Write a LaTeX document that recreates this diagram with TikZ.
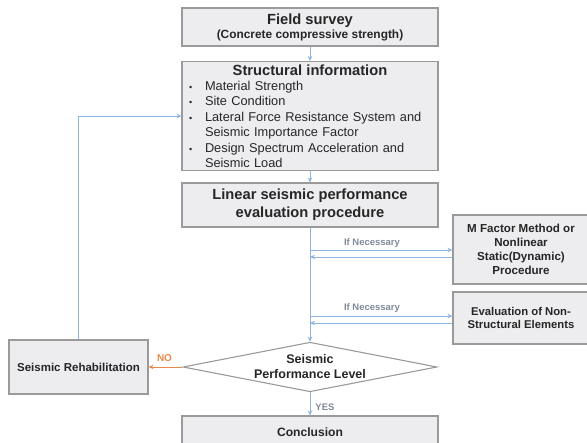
\documentclass[tikz,border=0pt]{standalone}
\usepackage{fontspec}
\setmainfont{Liberation Sans}
\usetikzlibrary{arrows.meta,shapes.geometric}
\definecolor{boxfill}{HTML}{EDEDF0}
\definecolor{boxline}{HTML}{9A9A9A}
\definecolor{flowblue}{HTML}{8DB4E2}
\definecolor{txt}{HTML}{262626}
\definecolor{labgrey}{HTML}{7F8A99}
\definecolor{noorange}{HTML}{E8894A}
\newcommand{\infoitem}[1]{\par\hangindent=16pt\hangafter=1\noindent\makebox[16pt][l]{\small\textbullet}#1\par}
\begin{document}
\begin{tikzpicture}[x=1pt,y=-1pt,
    box/.style={draw=boxline,line width=1.1pt,fill=boxfill,text=txt,font=\bfseries,inner sep=0pt,align=center},
    flow/.style={draw=flowblue,line width=0.9pt,-{Stealth[length=5pt,width=4.5pt]}},
    lab/.style={font=\bfseries\fontsize{9.5}{11}\selectfont,text=labgrey,inner sep=0pt}]
    \useasboundingbox (0,0) rectangle (587,443);

    \node[box,minimum width=256,minimum height=38,font=\bfseries\fontsize{11.9}{14}\selectfont] (field) at (310,27) {{\fontsize{14.7}{16}\selectfont Field survey}\\(Concrete compressive strength)};
    \node[box,anchor=north,minimum width=256,minimum height=109,text width=242pt,align=left,inner xsep=7pt,inner ysep=2pt,font=\fontsize{12.8}{15.4}\selectfont] (info) at (310,61) {\makebox[\linewidth]{\bfseries\fontsize{14.7}{16}\selectfont Structural information}
        \infoitem{Material Strength}
        \infoitem{Site Condition}
        \infoitem{Lateral Force Resistance System and\newline Seismic Importance Factor}
        \infoitem{Design Spectrum Acceleration and\newline Seismic Load}};
    \node[box,minimum width=256,minimum height=44,font=\bfseries\fontsize{14.7}{18}\selectfont] (linear) at (310,205) {Linear seismic performance\\evaluation procedure};
    \node[box,minimum width=136,minimum height=69,font=\bfseries\fontsize{11.6}{14}\selectfont] (mfac) at (521,249.5) {M Factor Method or\\Nonlinear\\Static(Dynamic)\\Procedure};
    \node[box,minimum width=136,minimum height=52,font=\bfseries\fontsize{11.3}{13.5}\selectfont] (nonstr) at (521,318) {Evaluation of Non-\\Structural Elements};
    \node[box,diamond,aspect=4.4,fill=white,minimum width=254,font=\bfseries\fontsize{12.5}{15}\selectfont] (perf) at (310,367) {Seismic\\Performance Level};
    \node[box,minimum width=139,minimum height=54,font=\bfseries\fontsize{11.5}{14}\selectfont] (rehab) at (78.5,367) {Seismic Rehabilitation};
    \node[box,minimum width=256,minimum height=32,font=\bfseries\fontsize{12.1}{14}\selectfont] (concl) at (310,432) {Conclusion};

    \coordinate (go1) at (310,250); \coordinate (back1) at (310,257);
    \coordinate (go2) at (310,316); \coordinate (back2) at (310,323);
    \node[lab] (nec1) at (372,243) {If Necessary};
    \node[lab] (nec2) at (372,308) {If Necessary};
    \node[lab,text=noorange,font=\bfseries\fontsize{10}{12}\selectfont] (no) at (164.5,358) {NO};
    \node[lab] (yes) at (325,407) {YES};

    \draw[flow] (field) to (info); \draw[flow] (info) to (linear); \draw[flow] (linear) to (perf);
    \draw[flow] (go1) to (go1 -| mfac.west); \draw[flow] (back1 -| mfac.west) to (back1);
    \draw[flow] (go2) to (go2 -| nonstr.west); \draw[flow] (back2 -| nonstr.west) to (back2);
    \draw[flow,draw=noorange] (perf.west) to (rehab.east); \draw[flow] (perf) to (concl);
    \draw[flow] (rehab.north) |- (info.west);
\end{tikzpicture}
\end{document}
